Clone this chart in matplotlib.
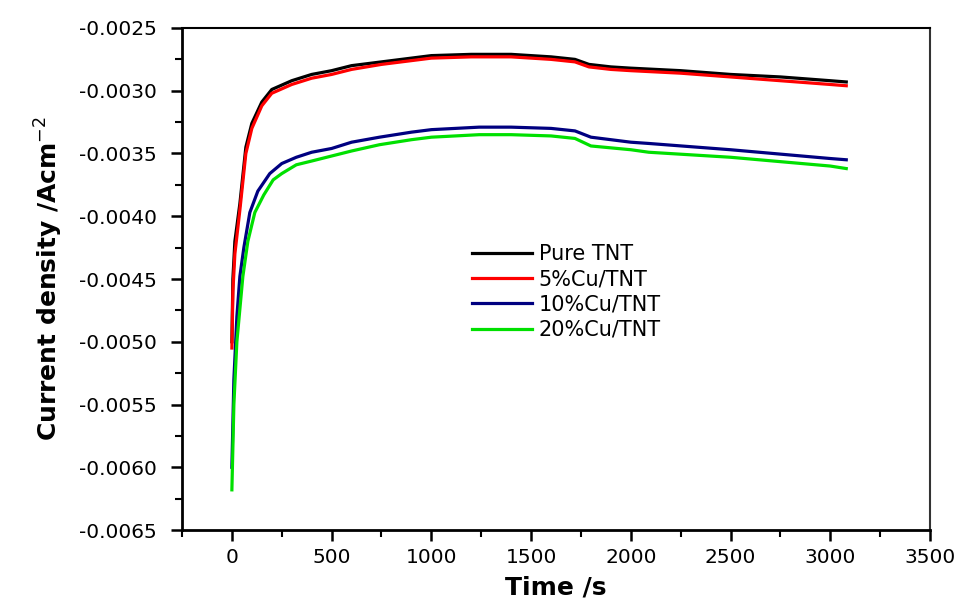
import matplotlib

matplotlib.use("Agg")
import matplotlib.pyplot as plt
from matplotlib.ticker import MultipleLocator, FormatStrFormatter

# chronoamperometry curves
t_pure = [0, 5, 15, 40, 70, 100, 150, 200, 300, 400, 500, 600, 750, 900, 1000,
          1200, 1400, 1600, 1720, 1790, 1900, 2000, 2250, 2500, 2750, 3000, 3080]
j_pure = [-0.00500, -0.00450, -0.00420, -0.00390, -0.00345, -0.00326, -0.00309,
          -0.00299, -0.00292, -0.00287, -0.00284, -0.00280, -0.00277, -0.00274,
          -0.00272, -0.00271, -0.00271, -0.00273, -0.00275, -0.00279, -0.00281,
          -0.00282, -0.00284, -0.00287, -0.00289, -0.00292, -0.00293]

t_cu5 = [0, 5, 15, 40, 70, 100, 150, 200, 300, 400, 500, 600, 750, 900, 1000,
         1200, 1400, 1600, 1720, 1790, 1900, 2000, 2250, 2500, 2750, 3000, 3080]
j_cu5 = [-0.00505, -0.00460, -0.00430, -0.00395, -0.00350, -0.00330, -0.00312,
         -0.00302, -0.00295, -0.00290, -0.00287, -0.00283, -0.00279, -0.00276,
         -0.00274, -0.00273, -0.00273, -0.00275, -0.00277, -0.00281, -0.00283,
         -0.00284, -0.00286, -0.00289, -0.00292, -0.00295, -0.00296]

t_cu10 = [0, 10, 25, 40, 60, 90, 130, 190, 250, 323, 400, 500, 600, 740, 900,
          1000, 1240, 1400, 1600, 1720, 1800, 2000, 2090, 2500, 3000, 3080]
j_cu10 = [-0.00600, -0.00530, -0.00480, -0.00448, -0.00425, -0.00397, -0.00380,
          -0.00366, -0.00358, -0.00353, -0.00349, -0.00346, -0.00341, -0.00337,
          -0.00333, -0.00331, -0.00329, -0.00329, -0.00330, -0.00332, -0.00337,
          -0.00341, -0.00342, -0.00347, -0.00354, -0.00355]

t_cu20 = [0, 10, 25, 55, 80, 115, 160, 207, 250, 323, 400, 500, 600, 740, 900,
          1000, 1240, 1400, 1600, 1720, 1800, 2000, 2090, 2500, 3000, 3080]
j_cu20 = [-0.00618, -0.00550, -0.00500, -0.00448, -0.00420, -0.00397, -0.00383,
          -0.00371, -0.00366, -0.00359, -0.00356, -0.00352, -0.00348, -0.00343,
          -0.00339, -0.00337, -0.00335, -0.00335, -0.00336, -0.00338, -0.00344,
          -0.00347, -0.00349, -0.00353, -0.00360, -0.00362]

series = [
    ("Pure TNT", t_pure, j_pure, "#000000"),
    ("5%Cu/TNT", t_cu5, j_cu5, "#ff0000"),
    ("10%Cu/TNT", t_cu10, j_cu10, "#000080"),
    ("20%Cu/TNT", t_cu20, j_cu20, "#00e000"),
]

plt.rcParams.update({
    "font.family": "DejaVu Sans",
    "axes.unicode_minus": False,
    "figure.facecolor": "white",
})

fig = plt.figure(figsize=(9.59, 6.06), dpi=100)
ax = fig.add_axes([0.1898, 0.1254, 0.7800, 0.8284])

for label, t, j, color in series:
    ax.plot(t, j, color=color, linewidth=2.3, label=label)

ax.set_xlim(-250, 3500)
ax.set_ylim(-0.0065, -0.0025)
ax.xaxis.set_major_locator(MultipleLocator(500))
ax.xaxis.set_minor_locator(MultipleLocator(250))
ax.yaxis.set_major_locator(MultipleLocator(0.0005))
ax.yaxis.set_minor_locator(MultipleLocator(0.00025))
ax.yaxis.set_major_formatter(FormatStrFormatter("%.4f"))

ax.tick_params(which="major", direction="out", length=8, width=1.8,
               labelsize=14.5, top=False, right=False)
ax.tick_params(which="minor", direction="out", length=5, width=1.5,
               top=False, right=False)
ax.tick_params(axis="y", which="major", pad=10)
ax.tick_params(axis="x", which="major", pad=5)

for side in ("left", "bottom"):
    ax.spines[side].set_linewidth(2)
ax.spines["top"].set_linewidth(1.5)
ax.spines["right"].set_linewidth(1.5)
ax.spines["right"].set_color("#333333")

ax.set_xlabel("Time /s", fontsize=18, fontweight="bold", labelpad=6)
ax.set_ylabel("Current density /Acm$^{-2}$", fontsize=18, fontweight="bold",
              labelpad=10)

ax.legend(loc="upper left", bbox_to_anchor=(0.374, 0.59), frameon=False,
          fontsize=15, handlelength=2.85, handletextpad=0.35, labelspacing=0.25,
          borderpad=0)

fig.savefig("out.png", dpi=100)
